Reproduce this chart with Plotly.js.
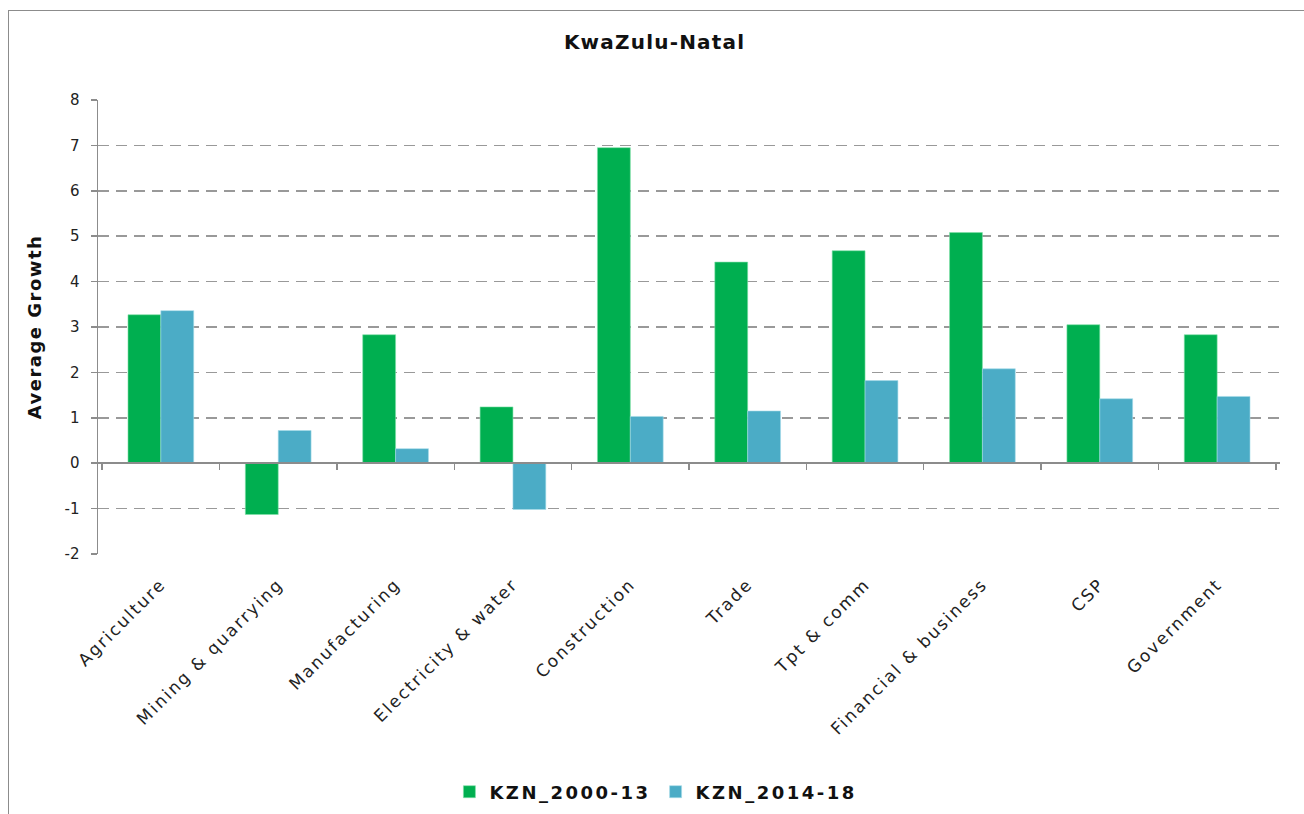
<!DOCTYPE html>
<html>
<head>
<meta charset="utf-8">
<script src="https://cdn.plot.ly/plotly-3.0.1.min.js"></script>
<style>
  html, body { margin: 0; padding: 0; background: #fff; overflow: hidden; }
  #frame { position: absolute; left: 8px; top: 10px; width: 1300px; height: 820px; border: 1px solid #8c8c8c; box-sizing: border-box; }
  #chart { position: absolute; left: 0; top: 0; width: 1304px; height: 814px; }
  .gtitle { letter-spacing: 1.2px; }
  .ytitle { letter-spacing: 1.5px; }
  .legendtext { letter-spacing: 2.5px; }
  .xtick text { letter-spacing: 2px; }
</style>
</head>
<body>
<div id="frame"></div>
<div id="chart"></div>
<script>
const categories = ["Agriculture", "Mining & quarrying", "Manufacturing", "Electricity & water", "Construction", "Trade", "Tpt & comm", "Financial & business", "CSP", "Government"];
const series1Name = "KZN_2000-13";
const series1 = [3.27, -1.13, 2.83, 1.24, 6.95, 4.43, 4.68, 5.08, 3.05, 2.83];
const series2Name = "KZN_2014-18";
const series2 = [3.36, 0.72, 0.32, -1.02, 1.03, 1.15, 1.82, 2.08, 1.42, 1.47];
const yTicks = [-2, -1, 0, 1, 2, 3, 4, 5, 6, 7, 8];

const font = "DejaVu Sans, Verdana, sans-serif";

const traces = [
  { type: "bar", name: series1Name, x: categories, y: series1,
    marker: { color: "#00AF50", line: { color: "#7fe0a8", width: 0.6 } } },
  { type: "bar", name: series2Name, x: categories, y: series2,
    marker: { color: "#4BACC6", line: { color: "#a6dcea", width: 0.6 } } },
  { type: "scatter", mode: "markers", x: categories, y: categories.map(() => 0),
    xaxis: "x2", yaxis: "y", marker: { opacity: 0 }, showlegend: false, hoverinfo: "skip" }
];

const layout = {
  width: 1304, height: 814,
  paper_bgcolor: "rgba(0,0,0,0)", plot_bgcolor: "rgba(0,0,0,0)",
  margin: { l: 98, r: 24, t: 100, b: 260 },
  font: { family: font, size: 14, color: "#222" },
  title: { text: "<b>KwaZulu-Natal</b>", x: 0.502, xref: "container", xanchor: "center", y: 1 - 42/814, yanchor: "middle",
           font: { family: font, size: 20, color: "#111" } },
  barmode: "group", bargap: 0.44, bargroupgap: 0,
  showlegend: true,
  legend: { orientation: "h", x: 0.503, xref: "container", xanchor: "center", y: 1 - 792/814, yref: "container", yanchor: "middle",
            font: { family: font, size: 18, color: "#111", weight: "bold" }, itemwidth: 20, tracegroupgap: 0 },
  xaxis: {
    type: "category", showline: false, ticks: "", showgrid: false, zeroline: false,
    tickangle: -45, ticklabelstandoff: 16, tickfont: { family: font, size: 17, color: "#222" }
  },
  xaxis2: {
    type: "category", overlaying: "x", matches: "x", anchor: "free", position: 0.2, side: "bottom",
    showline: true, linecolor: "#8c8c8c", linewidth: 2,
    ticks: "outside", tickson: "boundaries", ticklen: 6, tickwidth: 1.5, tickcolor: "#8c8c8c",
    showticklabels: false, showgrid: false, zeroline: false
  },
  yaxis: {
    range: [-2, 8], tickvals: yTicks, ticktext: yTicks.map(String),
    showline: true, linecolor: "#8c8c8c", linewidth: 1.5,
    ticks: "outside", ticklen: 6, tickwidth: 1.5, tickcolor: "#8c8c8c", ticklabelstandoff: 8,
    showgrid: true, gridcolor: "#999999", gridwidth: 1.6, griddash: "11px,7px",
    zeroline: false,
    tickfont: { family: font, size: 15, color: "#222" },
    title: { text: "<b>Average Growth</b>", standoff: 18, font: { family: font, size: 18, color: "#111" } }
  }
};

Plotly.newPlot("chart", traces, layout, { displayModeBar: false, staticPlot: true });
</script>
</body>
</html>
